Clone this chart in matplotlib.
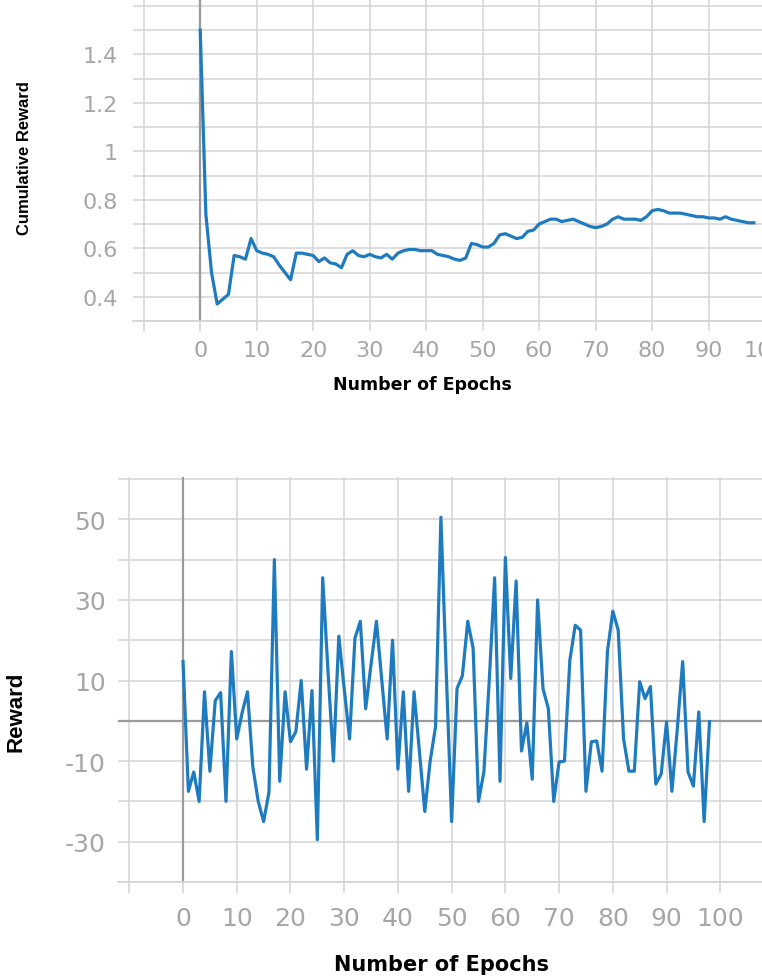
import matplotlib.pyplot as plt

# values, epochs 0..98
epochs = list(range(99))

cumulative_reward = [
    1.50, 0.74, 0.50, 0.37, 0.39, 0.41, 0.57, 0.565, 0.555, 0.64,
    0.59, 0.58, 0.575, 0.565, 0.53, 0.50, 0.47, 0.58, 0.58, 0.575,
    0.57, 0.545, 0.56, 0.54, 0.535, 0.52, 0.575, 0.59, 0.57, 0.565,
    0.575, 0.565, 0.56, 0.575, 0.555, 0.58, 0.59, 0.595, 0.595, 0.59,
    0.59, 0.59, 0.575, 0.57, 0.565, 0.555, 0.55, 0.56, 0.62, 0.615,
    0.605, 0.605, 0.62, 0.655, 0.66, 0.65, 0.64, 0.645, 0.67, 0.675,
    0.70, 0.71, 0.72, 0.72, 0.71, 0.715, 0.72, 0.71, 0.70, 0.69,
    0.685, 0.69, 0.70, 0.72, 0.73, 0.72, 0.72, 0.72, 0.715, 0.73,
    0.755, 0.76, 0.755, 0.745, 0.745, 0.745, 0.74, 0.735, 0.73, 0.73,
    0.725, 0.725, 0.72, 0.73, 0.72, 0.715, 0.71, 0.705, 0.705,
]

reward = [
    14.7, -17.5, -12.7, -20, 7.2, -12.5, 5, 7, -20, 17.2,
    -4.5, 2, 7.2, -11.5, -20, -25, -17.7, 40, -15, 7.2,
    -5.2, -2.7, 10, -12, 7.5, -29.5, 35.5, 12, -10, 21,
    8, -4.5, 20.5, 24.7, 3, 14, 24.7, 10, -4.5, 20,
    -12, 7.2, -17.5, 7.2, -7.6, -22.5, -10, -1.5, 50.5, 12,
    -25, 8, 11.2, 24.7, 18, -20, -12.7, 10, 35.5, -15,
    40.5, 10.5, 34.7, -7.5, -0.5, -14.5, 30, 8, 3, -20,
    -10.2, -10, 15, 23.7, 22.5, -17.5, -5.2, -5, -12.5, 17.2,
    27.2, 22.5, -4.5, -12.5, -12.5, 9.7, 5.5, 8.5, -15.7, -13.2,
    -0.3, -17.5, -2, 14.7, -12.7, -16.2, 2.2, -25, -0.2,
]

top_xticks = list(range(-10, 101, 10))
top_xlabels = ['' if t < 0 else str(t) for t in top_xticks]
top_yticks = [round(0.3 + 0.1 * i, 1) for i in range(14)]
top_ylabels = ['', '0.4', '', '0.6', '', '0.8', '', '1', '', '1.2', '', '1.4', '', '']

bot_xticks = list(range(-10, 111, 10))
bot_xlabels = ['' if (t < 0 or t > 100) else str(t) for t in bot_xticks]
bot_yticks = list(range(-40, 61, 10))
bot_ylabels = ['', '-30', '', '-10', '', '10', '', '30', '', '50', '']

line_color = '#1f7bbf'
grid_color = '#d4d4d4'
zero_color = '#9a9a9a'
label_color = '#a6a6a6'

W, H = 762, 978
fig = plt.figure(figsize=(W / 100, H / 100), dpi=100)


def style_axes(ax):
    for side in ['top', 'right', 'left']:
        ax.spines[side].set_visible(False)
    ax.spines['bottom'].set_color(grid_color)
    ax.spines['bottom'].set_linewidth(1.2)
    ax.grid(True, color=grid_color, linewidth=1.1)
    ax.set_axisbelow(True)
    ax.tick_params(axis='y', length=0)


# top chart: cumulative reward
ax1 = fig.add_axes([133 / W, 1 - 322 / H, 644 / W, 322 / H])
ax1.plot(epochs, cumulative_reward, color=line_color, linewidth=2.3, zorder=3)
ax1.axvline(0, color=zero_color, linewidth=1.6, zorder=2)
ax1.set_xlim(-11.9, 102.1)
ax1.set_ylim(0.3, 1.628)
ax1.set_xticks(top_xticks)
ax1.set_xticklabels(top_xlabels)
ax1.set_yticks(top_yticks)
ax1.set_yticklabels(top_ylabels)
style_axes(ax1)
ax1.tick_params(axis='x', length=7, width=1.1, color=grid_color, pad=7,
                labelsize=16, labelcolor=label_color)
ax1.tick_params(axis='y', pad=11, labelsize=16, labelcolor=label_color)

# bottom chart: reward per epoch
ax2 = fig.add_axes([118 / W, 1 - 883 / H, 656 / W, 405 / H])
ax2.plot(epochs, reward, color=line_color, linewidth=2.3, zorder=3)
ax2.axvline(0, color=zero_color, linewidth=1.6, zorder=2)
ax2.axhline(0, color=zero_color, linewidth=1.6, zorder=2)
ax2.set_xlim(-12.1, 110)
ax2.set_ylim(-40, 60.5)
ax2.set_xticks(bot_xticks)
ax2.set_xticklabels(bot_xlabels)
ax2.set_yticks(bot_yticks)
ax2.set_yticklabels(bot_ylabels)
style_axes(ax2)
ax2.tick_params(axis='x', length=8, width=1.1, color=grid_color, pad=9,
                labelsize=18, labelcolor=label_color)
ax2.tick_params(axis='y', pad=9, labelsize=18, labelcolor=label_color)

# axis titles placed in pixel positions
fig.text(422 / W, 1 - 385 / H, 'Number of Epochs', ha='center', va='center',
         fontsize=12.5, fontweight='bold', family='DejaVu Sans')
fig.text(25 / W, 1 - 158 / H, 'Cumulative Reward', ha='center', va='center',
         rotation=90, fontsize=12, fontweight='bold',
         family=['Liberation Sans Narrow', 'Liberation Sans'])
fig.text(441 / W, 1 - 965 / H, 'Number of Epochs', ha='center', va='center',
         fontsize=15, fontweight='bold', family='DejaVu Sans')
fig.text(16 / W, 1 - 712 / H, 'Reward', ha='center', va='center',
         rotation=90, fontsize=16, fontweight='bold', family='Liberation Sans')

fig.savefig('out.png', dpi=100)
